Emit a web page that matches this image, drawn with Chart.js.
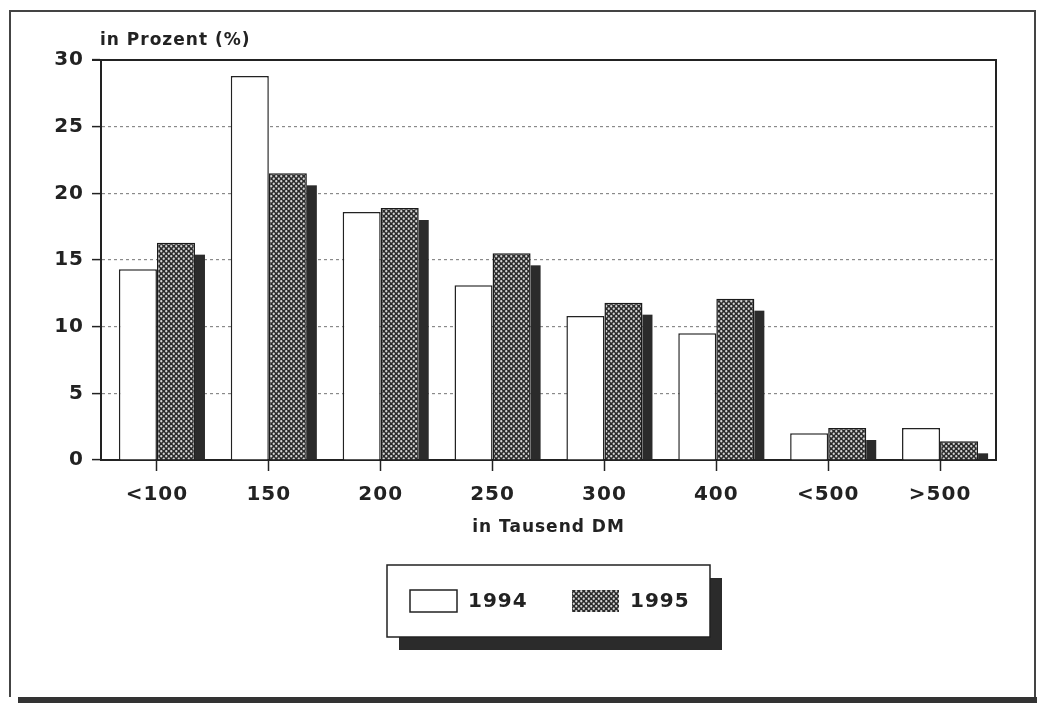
<!DOCTYPE html>
<html>
<head>
<meta charset="utf-8">
<script src="https://cdn.jsdelivr.net/npm/chart.js@4"></script>
<style>
  html, body { margin: 0; padding: 0; background: #fff; }
  canvas { display: block; }
</style>
</head>
<body>
<canvas id="chart" width="1037" height="703"></canvas>
<script>
// Einkommensklassen (in Tausend DM) und Anteile in Prozent
const CATEGORIES = ["<100", "150", "200", "250", "300", "400", "<500", ">500"];
const VALUES_1994 = [14.3, 28.8, 18.6, 13.1, 10.8, 9.5, 2.0, 2.4];
const VALUES_1995 = [16.3, 21.5, 18.9, 15.5, 11.8, 12.1, 2.4, 1.4];
const SERIES_LABELS = ["1994", "1995"];
const Y_TICKS = [0, 5, 10, 15, 20, 25, 30];

const FONT = "'DejaVu Sans', sans-serif";
const INK = "#222";
const SHADOW = "#2b2b2b";

const canvas = document.getElementById("chart");
const ctx = canvas.getContext("2d");

// Rasterfüllung für 1995: helle Punkte versetzt auf dunklem Grund
function dotPattern() {
  const c = document.createElement("canvas");
  c.width = 5;
  c.height = 5;
  const g = c.getContext("2d");
  g.fillStyle = "#2a2a2a";
  g.fillRect(0, 0, 5, 5);
  g.fillStyle = "#d6d6d6";
  [[1.25, 1.25], [3.75, 3.75]].forEach(([x, y]) => {
    g.beginPath();
    g.arc(x, y, 1.15, 0, Math.PI * 2);
    g.fill();
  });
  return ctx.createPattern(c, "repeat");
}
const PATTERN = dotPattern();

// Weißer Hintergrund und äußerer Rahmen mit dunkler Unterkante
const framePlugin = {
  id: "frame",
  beforeDraw(chart) {
    const c = chart.ctx;
    const w = chart.width, h = chart.height;
    c.save();
    c.fillStyle = "#fff";
    c.fillRect(0, 0, w, h);
    c.strokeStyle = "#444";
    c.lineWidth = 2;
    c.beginPath();
    c.moveTo(10, h - 6);
    c.lineTo(10, 11);
    c.lineTo(w - 2, 11);
    c.lineTo(w - 2, h - 6);
    c.stroke();
    c.fillStyle = "#333";
    c.fillRect(18, h - 6, w - 18, 6);
    c.restore();
    c.letterSpacing = "1px";
  },
  afterDatasetsDraw(chart) {
    const c = chart.ctx;
    const a = chart.chartArea;
    c.save();
    c.strokeStyle = INK;
    c.lineWidth = 2;
    c.beginPath();
    c.moveTo(a.left - 9, a.top);
    c.lineTo(a.right, a.top);
    c.lineTo(a.right, a.bottom);
    c.stroke();
    c.restore();
  },
  afterDraw(chart) {
    const c = chart.ctx;
    c.save();
    c.letterSpacing = "1px";
    c.fillStyle = INK;
    c.font = "bold 17px " + FONT;
    c.textBaseline = "alphabetic";
    c.fillText("in Prozent (%)", chart.chartArea.left - 1, 45);
    c.restore();
  }
};

// Schlagschatten rechts neben den 1995er Säulen
const shadowPlugin = {
  id: "barShadow",
  beforeDatasetsDraw(chart) {
    const c = chart.ctx;
    const meta = chart.getDatasetMeta(1);
    c.save();
    c.fillStyle = SHADOW;
    meta.data.forEach((el) => {
      const x = el.x + el.width / 2;
      const top = Math.min(el.y + 12, el.base);
      c.fillRect(x, top, 10, el.base - top);
    });
    c.restore();
  }
};

// Legende im Kasten mit Schatten unter dem Diagramm
const legendPlugin = {
  id: "boxLegend",
  afterDraw(chart) {
    const c = chart.ctx;
    const a = chart.chartArea;
    const bw = 323, bh = 72;
    const left = (a.left + a.right) / 2 - bw / 2;
    const top = 565;
    c.save();
    c.fillStyle = SHADOW;
    c.fillRect(left + 12, top + 13, bw, bh);
    c.fillStyle = "#fff";
    c.fillRect(left, top, bw, bh);
    c.strokeStyle = INK;
    c.lineWidth = 1.5;
    c.strokeRect(left, top, bw, bh);

    c.font = "bold 20px " + FONT;
    c.letterSpacing = "1px";
    c.textBaseline = "middle";
    const items = [
      { x: left + 23, ds: chart.data.datasets[0] },
      { x: left + 185, ds: chart.data.datasets[1] }
    ];
    items.forEach((it) => {
      const sy = top + 25;
      c.fillStyle = it.ds.backgroundColor;
      c.fillRect(it.x, sy, 47, 22);
      if (it.ds.backgroundColor === "#fff") {
        c.strokeStyle = INK;
        c.lineWidth = 1.5;
        c.strokeRect(it.x, sy, 47, 22);
      }
      c.fillStyle = INK;
      c.fillText(it.ds.label, it.x + 58, sy + 12);
    });
    c.restore();
  }
};

new Chart(ctx, {
  type: "bar",
  data: {
    labels: CATEGORIES,
    datasets: [
      {
        label: SERIES_LABELS[0],
        data: VALUES_1994,
        backgroundColor: "#fff",
        borderColor: INK,
        borderWidth: 1.5
      },
      {
        label: SERIES_LABELS[1],
        data: VALUES_1995,
        backgroundColor: PATTERN,
        borderColor: "#1a1a1a",
        borderWidth: 1.5
      }
    ]
  },
  options: {
    responsive: false,
    animation: false,
    layout: { padding: { left: 0, right: 41, top: 60, bottom: 163 } },
    datasets: { bar: { categoryPercentage: 0.68, barPercentage: 1 } },
    scales: {
      x: {
        grid: {
          offset: false,
          drawOnChartArea: false,
          drawTicks: true,
          tickLength: 11,
          tickColor: INK,
          tickWidth: 1.5
        },
        border: { display: true, color: INK, width: 2 },
        ticks: {
          color: INK,
          font: { family: FONT, size: 20, weight: "bold" },
          padding: 12,
          autoSkip: false,
          maxRotation: 0
        },
        title: {
          display: true,
          text: "in Tausend DM",
          color: INK,
          font: { family: FONT, size: 17, weight: "bold" },
          padding: { top: 0, bottom: 2 }
        },
        afterFit(s) { s.height = 80; }
      },
      y: {
        min: 0,
        max: 30,
        afterBuildTicks(s) { s.ticks = Y_TICKS.map((v) => ({ value: v })); },
        grid: {
          color: "#8a8a8a",
          lineWidth: 1.2,
          tickColor: INK,
          tickLength: 9,
          tickWidth: 1.5,
          tickBorderDash: []
        },
        border: { display: true, color: INK, width: 2, dash: [3, 3] },
        ticks: {
          color: INK,
          font: { family: FONT, size: 20, weight: "bold" },
          padding: 8
        },
        afterFit(s) { s.width = 101; }
      }
    },
    plugins: {
      legend: { display: false },
      tooltip: { enabled: false }
    }
  },
  plugins: [framePlugin, shadowPlugin, legendPlugin]
});
</script>
</body>
</html>
